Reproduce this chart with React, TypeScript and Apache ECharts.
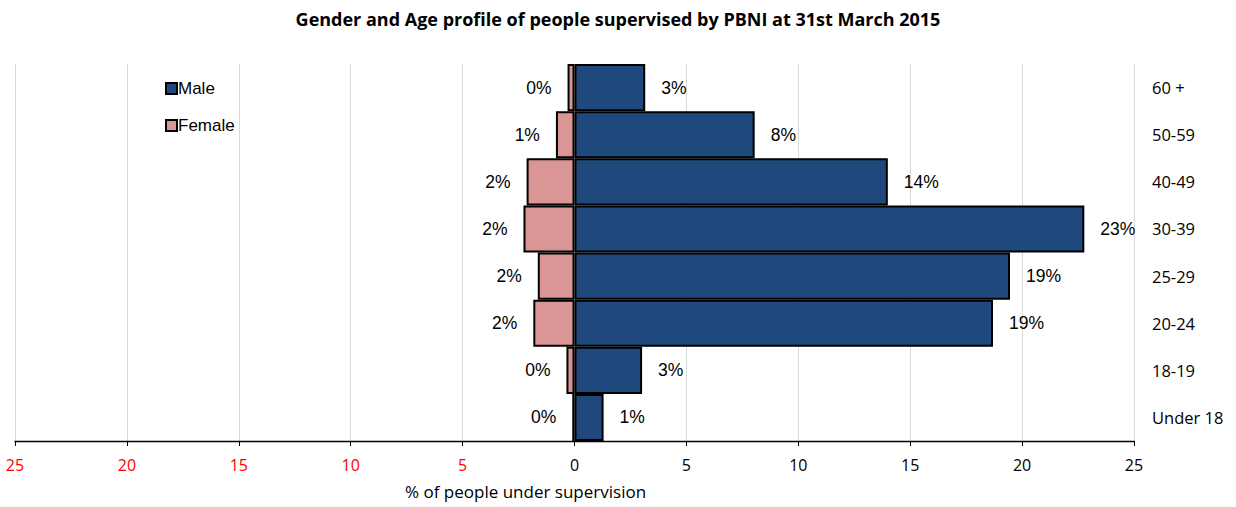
import React, { useEffect, useRef } from "react";
import * as echarts from "echarts";

const categories = ["Under 18", "18-19", "20-24", "25-29", "30-39", "40-49", "50-59", "60 +"];
const maleValues = [1.3, 3.02, 18.7, 19.46, 22.78, 14.0, 8.05, 3.16];
const femaleValues = [-0.1, -0.36, -1.84, -1.64, -2.28, -2.14, -0.83, -0.31];

const TITLE = "Gender and Age profile of people supervised by PBNI at 31st March 2015";
const AXIS_NAME = "% of people under supervision";
const LATIN = "'Open Sans', 'Liberation Sans', sans-serif";
const ARIAL = "'Liberation Sans', Arial, sans-serif";

export default function App() {
  const ref = useRef<HTMLDivElement>(null);
  useEffect(() => {
    if (!ref.current) return;
    const chart = echarts.init(ref.current, null, { renderer: "svg" });
    const pctLabel = (p: any) => Math.round(Math.abs(p.value)) + "%";
    chart.setOption({
      animation: false,
      backgroundColor: "#ffffff",
      title: {
        text: TITLE,
        left: "center",
        top: 5,
        textStyle: { fontFamily: LATIN, fontWeight: "bold", fontSize: 18, color: "#000" },
      },
      legend: {
        orient: "vertical",
        left: 160,
        top: 75,
        itemGap: 20,
        itemWidth: 11,
        itemHeight: 11,
        icon: "rect",
        data: ["Male", "Female"],
        textStyle: { fontFamily: ARIAL, fontSize: 17, color: "#000", padding: [0, 0, 0, -4] },
      },
      grid: { left: 15, right: 102, top: 64, bottom: 66 },
      xAxis: {
        type: "value",
        min: -25,
        max: 25,
        interval: 5,
        axisLine: { show: true, lineStyle: { color: "#000", width: 1.3 } },
        axisTick: { show: true, length: 5, lineStyle: { color: "#000" } },
        splitLine: { show: true, lineStyle: { color: "#d9d9d9" } },
        axisLabel: {
          margin: 16,
          fontFamily: LATIN,
          fontSize: 16,
          color: "#000",
          formatter: (v: number) => (v < 0 ? "{r|" + Math.abs(v) + "}" : "" + v),
          rich: { r: { color: "#ff0000", fontFamily: LATIN, fontSize: 16 } },
        },
      },
      yAxis: {
        type: "category",
        data: categories,
        position: "right",
        axisLine: { show: false },
        axisTick: { show: false },
        axisLabel: { align: "left", margin: 18, fontFamily: LATIN, fontSize: 16.5, color: "#000" },
      },
      graphic: [
        {
          type: "text",
          left: 405,
          top: 483,
          style: { text: AXIS_NAME, fontFamily: LATIN, fontSize: 17, fill: "#000" },
        },
      ],
      series: [
        {
          name: "Female",
          type: "bar",
          stack: "total",
          barCategoryGap: "0%",
          data: femaleValues,
          itemStyle: { color: "#da9694", borderColor: "#000", borderWidth: 2 },
          label: {
            show: true,
            position: "left",
            distance: 16,
            formatter: pctLabel,
            fontFamily: ARIAL,
            fontSize: 17.5,
            color: "#000",
          },
        },
        {
          name: "Male",
          type: "bar",
          stack: "total",
          barCategoryGap: "0%",
          data: maleValues,
          itemStyle: { color: "#1f497d", borderColor: "#000", borderWidth: 2 },
          label: {
            show: true,
            position: "right",
            distance: 16,
            formatter: pctLabel,
            fontFamily: ARIAL,
            fontSize: 17.5,
            color: "#000",
          },
        },
      ],
    });
    return () => chart.dispose();
  }, []);
  return (
    <div
      ref={ref}
      style={{ position: "fixed", left: 0, top: 0, width: 1236, height: 507, background: "#fff" }}
    />
  );
}
